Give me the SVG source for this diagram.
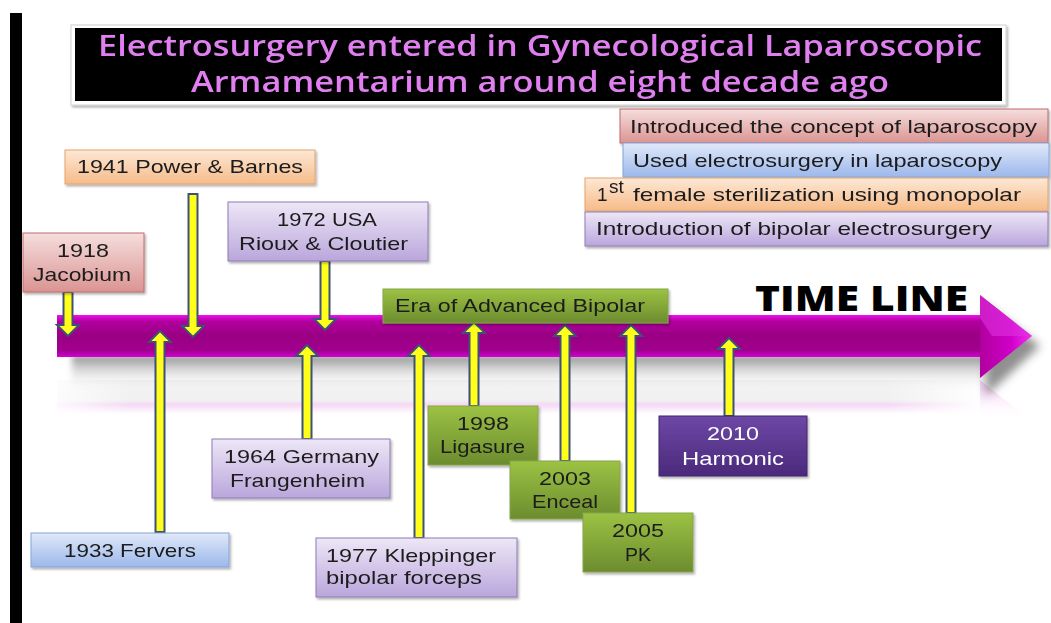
<svg xmlns="http://www.w3.org/2000/svg" width="1051" height="623" viewBox="0 0 1051 623">
<defs>
<style>
.t{font-family:"Liberation Sans","Open Sans",sans-serif;font-size:19px;fill:#1c1c1c}
.c{text-anchor:middle}
.w{fill:#ffffff}
.title{font-family:"Open Sans","Liberation Sans",sans-serif;font-size:28px;font-weight:600;fill:#e07ff0;text-anchor:middle}
.tl{font-family:"Open Sans","Liberation Sans",sans-serif;font-size:35px;font-weight:800;fill:#000}
.red{fill:url(#gRed);stroke:#c26a68;stroke-width:1}
.blue{fill:url(#gBlue);stroke:#87a4d8;stroke-width:1}
.orange{fill:url(#gOrange);stroke:#e3a46c;stroke-width:1}
.purple{fill:url(#gPurple);stroke:#8f7bb5;stroke-width:1}
.green{fill:url(#gGreen);stroke:#86a54a;stroke-width:1}
.harm{fill:url(#gHarm);stroke:#43276f;stroke-width:1}
.arr{fill:#ffff1a;stroke:#3d5179;stroke-width:2;stroke-linejoin:miter}
</style>
<linearGradient id="gRed" x1="0" y1="0" x2="0" y2="1"><stop offset="0" stop-color="#f5dedd"/><stop offset="1" stop-color="#da9492"/></linearGradient>
<linearGradient id="gBlue" x1="0" y1="0" x2="0" y2="1"><stop offset="0" stop-color="#e0e9f9"/><stop offset="1" stop-color="#9cb8ec"/></linearGradient>
<linearGradient id="gOrange" x1="0" y1="0" x2="0" y2="1"><stop offset="0" stop-color="#fde8d6"/><stop offset="1" stop-color="#f6bb88"/></linearGradient>
<linearGradient id="gPurple" x1="0" y1="0" x2="0" y2="1"><stop offset="0" stop-color="#ede7f6"/><stop offset="1" stop-color="#baa6dc"/></linearGradient>
<linearGradient id="gGreen" x1="0" y1="0" x2="0" y2="1"><stop offset="0" stop-color="#9cc244"/><stop offset="1" stop-color="#6c8c2e"/></linearGradient>
<linearGradient id="gHarm" x1="0" y1="0" x2="0" y2="1"><stop offset="0" stop-color="#6d48a6"/><stop offset="1" stop-color="#4a2a7b"/></linearGradient>
<linearGradient id="gBand" x1="0" y1="0" x2="0" y2="1"><stop offset="0" stop-color="#ee10ee"/><stop offset="0.15" stop-color="#b2009f"/><stop offset="0.5" stop-color="#990082"/><stop offset="0.85" stop-color="#a2008e"/><stop offset="1" stop-color="#d600d6"/></linearGradient>
<linearGradient id="gHead" x1="0" y1="0" x2="1" y2="0"><stop offset="0" stop-color="#b0009e"/><stop offset="0.6" stop-color="#d000c8"/><stop offset="1" stop-color="#f030f0"/></linearGradient>
<linearGradient id="gShadow" x1="0" y1="0" x2="0" y2="1"><stop offset="0" stop-color="#7a7a7a" stop-opacity="0.9"/><stop offset="0.35" stop-color="#b0b0b0" stop-opacity="0.6"/><stop offset="1" stop-color="#ffffff" stop-opacity="0"/></linearGradient>
<linearGradient id="gRefl" x1="0" y1="0" x2="0" y2="1"><stop offset="0" stop-color="#f3f3f3"/><stop offset="0.6" stop-color="#f1f1f1"/><stop offset="0.72" stop-color="#f5d8f5"/><stop offset="1" stop-color="#ffffff"/></linearGradient>
<linearGradient id="gReflH" x1="0" y1="0" x2="1" y2="0"><stop offset="0" stop-color="#fff" stop-opacity="0.8"/><stop offset="0.08" stop-color="#fff" stop-opacity="0"/><stop offset="0.9" stop-color="#fff" stop-opacity="0"/><stop offset="1" stop-color="#fff" stop-opacity="1"/></linearGradient>
<linearGradient id="gHeadRefl" x1="0" y1="0" x2="0" y2="1"><stop offset="0" stop-color="#e080e0" stop-opacity="0.5"/><stop offset="1" stop-color="#ffffff" stop-opacity="0"/></linearGradient>
<filter id="sh" x="-10%" y="-20%" width="130%" height="150%"><feDropShadow dx="1.5" dy="2" stdDeviation="1.2" flood-color="#000" flood-opacity="0.3"/></filter>
<filter id="blur" x="-30%" y="-30%" width="160%" height="160%"><feGaussianBlur stdDeviation="5"/></filter>
<filter id="blur2" x="-10%" y="-50%" width="120%" height="200%"><feGaussianBlur stdDeviation="3"/></filter>
</defs>
<rect x="0" y="0" width="1051" height="623" fill="#ffffff"/>
<rect x="10" y="13" width="12" height="610" fill="#000"/>

<g id="title" filter="url(#sh)">
<rect x="71" y="25" width="935" height="80" fill="#ffffff" stroke="#d0d0d0" stroke-width="1"/>
<rect x="75" y="28" width="927" height="73" fill="#000"/>
<text class="title" x="540" y="56" textLength="884" lengthAdjust="spacingAndGlyphs">Electrosurgery entered in Gynecological  Laparoscopic</text>
<text class="title" x="540" y="92" textLength="698" lengthAdjust="spacingAndGlyphs">Armamentarium  around  eight  decade  ago</text>
</g>

<g id="timeline">
<rect x="57" y="380" width="925" height="34" fill="url(#gRefl)"/>
<rect x="57" y="380" width="925" height="34" fill="url(#gReflH)"/>
<polygon points="980,380 1030,420 980,420" fill="url(#gHeadRefl)"/>
<rect x="72" y="355" width="915" height="36" fill="url(#gShadow)" filter="url(#blur2)"/>
<polygon points="986,305 1040,346 986,396" fill="#6a6a6a" opacity="0.75" filter="url(#blur)"/>
<rect x="57" y="315" width="924" height="42" fill="url(#gBand)"/>
<polygon points="980,295 1032,336 980,378" fill="url(#gHead)"/>
<polygon points="980,295 1032,336 992,336 980,318" fill="#e030e0" opacity="0.6"/>
<text class="tl" x="755" y="311" textLength="213" lengthAdjust="spacingAndGlyphs">TIME LINE</text>
</g>

<g id="connectors">
<path class="arr" d="M68,336 L79,325 L72.5,325 L72.5,292 L63.5,292 L63.5,325 L57,325 Z"/>
<path class="arr" d="M193,337 L204,326 L197.5,326 L197.5,194 L188.5,194 L188.5,326 L182,326 Z"/>
<path class="arr" d="M325,330 L336,319 L329.5,319 L329.5,261 L320.5,261 L320.5,319 L314,319 Z"/>
<path class="arr" d="M160,331 L171,342 L164.5,342 L164.5,532 L155.5,532 L155.5,342 L149,342 Z"/>
<path class="arr" d="M307,345 L318,356 L311.5,356 L311.5,439 L302.5,439 L302.5,356 L296,356 Z"/>
<path class="arr" d="M419,345 L430,356 L423.5,356 L423.5,538 L414.5,538 L414.5,356 L408,356 Z"/>
<path class="arr" d="M474,322 L485,333 L478.5,333 L478.5,406 L469.5,406 L469.5,333 L463,333 Z"/>
<path class="arr" d="M565,325 L576,336 L569.5,336 L569.5,461 L560.5,461 L560.5,336 L554,336 Z"/>
<path class="arr" d="M631,325 L642,336 L635.5,336 L635.5,513 L626.5,513 L626.5,336 L620,336 Z"/>
<path class="arr" d="M729,338 L740,349 L733.5,349 L733.5,416 L724.5,416 L724.5,349 L718,349 Z"/>
</g>

<g id="legend-red" filter="url(#sh)">
<rect class="red" x="620" y="109" width="428" height="34"/>
<text class="t" x="630" y="133" textLength="407" lengthAdjust="spacingAndGlyphs">Introduced the concept of laparoscopy</text>
</g>
<g id="legend-blue" filter="url(#sh)">
<rect class="blue" x="623" y="143" width="426" height="34"/>
<text class="t" x="633" y="167" textLength="369" lengthAdjust="spacingAndGlyphs">Used electrosurgery in laparoscopy</text>
</g>
<g id="legend-orange" filter="url(#sh)">
<rect class="orange" x="585" y="178" width="463" height="33"/>
<text class="t" x="597" y="201">1</text>
<text class="t" x="609" y="193" font-size="11">st</text>
<text class="t" x="633" y="201" textLength="388" lengthAdjust="spacingAndGlyphs">female sterilization using  monopolar</text>
</g>
<g id="legend-purple" filter="url(#sh)">
<rect class="purple" x="585" y="212" width="463" height="34"/>
<text class="t" x="596" y="235" textLength="396" lengthAdjust="spacingAndGlyphs">Introduction of bipolar electrosurgery</text>
</g>

<g id="n1941" filter="url(#sh)">
<rect class="orange" x="65" y="150" width="250" height="34"/>
<text class="t" x="77" y="173" textLength="226" lengthAdjust="spacingAndGlyphs">1941 Power &amp; Barnes</text>
</g>
<g id="n1918" filter="url(#sh)">
<rect class="red" x="23" y="233" width="121" height="59"/>
<text class="t" x="57" y="257" textLength="52" lengthAdjust="spacingAndGlyphs">1918</text>
<text class="t" x="33" y="281" textLength="98" lengthAdjust="spacingAndGlyphs">Jacobium</text>
</g>
<g id="n1972" filter="url(#sh)">
<rect class="purple" x="228" y="202" width="200" height="59"/>
<text class="t" x="277" y="226" textLength="100" lengthAdjust="spacingAndGlyphs">1972 USA</text>
<text class="t" x="239" y="250" textLength="169" lengthAdjust="spacingAndGlyphs">Rioux &amp; Cloutier</text>
</g>
<g id="nEra" filter="url(#sh)">
<rect class="green" x="383" y="289" width="285" height="34"/>
<text class="t" x="395" y="312" textLength="250" lengthAdjust="spacingAndGlyphs">Era of Advanced Bipolar</text>
</g>
<g id="n1933" filter="url(#sh)">
<rect class="blue" x="31" y="533" width="198" height="34"/>
<text class="t" x="64" y="557" textLength="132" lengthAdjust="spacingAndGlyphs">1933 Fervers</text>
</g>
<g id="n1964" filter="url(#sh)">
<rect class="purple" x="212" y="439" width="178" height="59"/>
<text class="t" x="224" y="463" textLength="155" lengthAdjust="spacingAndGlyphs">1964 Germany</text>
<text class="t" x="230" y="487" textLength="135" lengthAdjust="spacingAndGlyphs">Frangenheim</text>
</g>
<g id="n1977" filter="url(#sh)">
<rect class="purple" x="316" y="538" width="201" height="59"/>
<text class="t" x="326" y="562" textLength="170" lengthAdjust="spacingAndGlyphs">1977 Kleppinger</text>
<text class="t" x="326" y="584" textLength="156" lengthAdjust="spacingAndGlyphs">bipolar  forceps</text>
</g>
<g id="n1998" filter="url(#sh)">
<rect class="green" x="428" y="406" width="110" height="59"/>
<text class="t" x="457" y="430" textLength="52" lengthAdjust="spacingAndGlyphs">1998</text>
<text class="t" x="440" y="453" textLength="85" lengthAdjust="spacingAndGlyphs">Ligasure</text>
</g>
<g id="n2003" filter="url(#sh)">
<rect class="green" x="510" y="461" width="110" height="58"/>
<text class="t" x="539" y="485" textLength="52" lengthAdjust="spacingAndGlyphs">2003</text>
<text class="t" x="532" y="508" textLength="66" lengthAdjust="spacingAndGlyphs">Enceal</text>
</g>
<g id="n2005" filter="url(#sh)">
<rect class="green" x="583" y="513" width="110" height="59"/>
<text class="t" x="612" y="537" textLength="52" lengthAdjust="spacingAndGlyphs">2005</text>
<text class="t" x="625" y="561" textLength="26" lengthAdjust="spacingAndGlyphs">PK</text>
</g>
<g id="n2010" filter="url(#sh)">
<rect class="harm" x="659" y="416" width="148" height="60"/>
<text class="t w" x="707" y="440" textLength="52" lengthAdjust="spacingAndGlyphs">2010</text>
<text class="t w" x="682" y="465" textLength="102" lengthAdjust="spacingAndGlyphs">Harmonic</text>
</g>
</svg>
